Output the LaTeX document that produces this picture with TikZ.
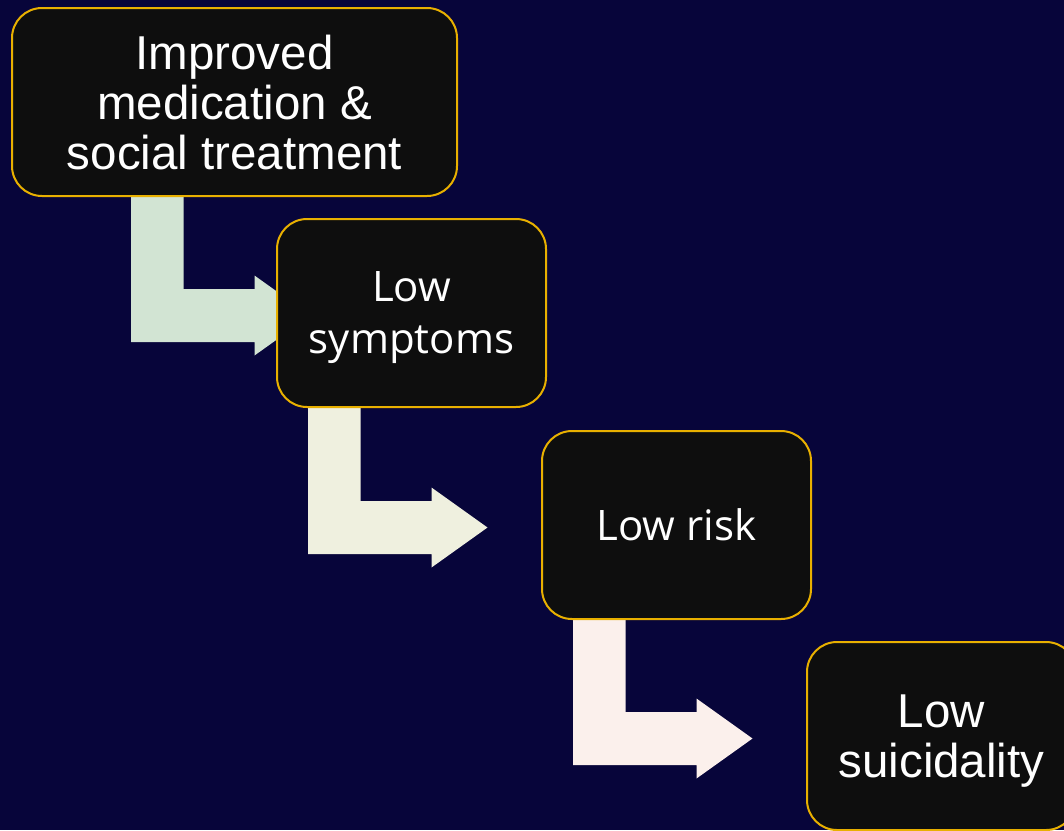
\documentclass[tikz,border=0pt]{standalone}
\usepackage{fontspec}
\setmainfont{Liberation Sans}
\newfontfamily\segoe{Open Sans}
\usetikzlibrary{calc,backgrounds}

\definecolor{navy}{HTML}{07053A}
\definecolor{boxfill}{HTML}{0E0E0E}
\definecolor{gold}{HTML}{E8B000}
\definecolor{greenarrow}{HTML}{D2E4D3}
\definecolor{creamarrow}{HTML}{EFF0DF}
\definecolor{pinkarrow}{HTML}{FBF0EC}

\begin{document}
\begin{tikzpicture}[x=1pt,y=-1pt,
  stage/.style={draw=gold,line width=2pt,fill=boxfill,rounded corners=30pt,
    minimum width=269pt,minimum height=188pt,inner sep=0pt,text depth=0pt,
    text=white,align=center,font=\fontsize{47.5pt}{50pt}\selectfont},
  softstage/.style={stage,font=\segoe\fontsize{42pt}{52pt}\selectfont}]

\useasboundingbox (0,0) rectangle (1064,830);

\node[stage,minimum width=445pt] (imp) at (234.5,102) {Improved\\medication \&\\social treatment};
\node[softstage] (sym) at (411.5,313) {Low\\symptoms};
\node[softstage] (risk) at (676.5,525) {Low risk};
\node[stage] (suic) at (941.5,736) {Low\\suicidality};

\begin{scope}[on background layer]
\fill[navy] (0,0) rectangle (1064,830);

% bent arrows, bar level with the next box
\foreach \a/\b/\col in {imp/sym/greenarrow, sym/risk/creamarrow, risk/suic/pinkarrow} {
  \coordinate (k) at ($(\a.center |- \b.center)+(0,2.5)$);
  \fill[\col] ($(\a.south)+(-103.5,-2)$) -- ($(k)+(-103.5,26.5)$)
    -- ($(k)+(20,26.5)$) -- ($(k)+(20,40)$) -- ($(k)+(76,0)$)
    -- ($(k)+(20,-40)$) -- ($(k)+(20,-26.5)$) -- ($(k)+(-51,-26.5)$)
    -- ($(\a.south)+(-51,-2)$) -- cycle;
}
\end{scope}

\end{tikzpicture}
\end{document}
